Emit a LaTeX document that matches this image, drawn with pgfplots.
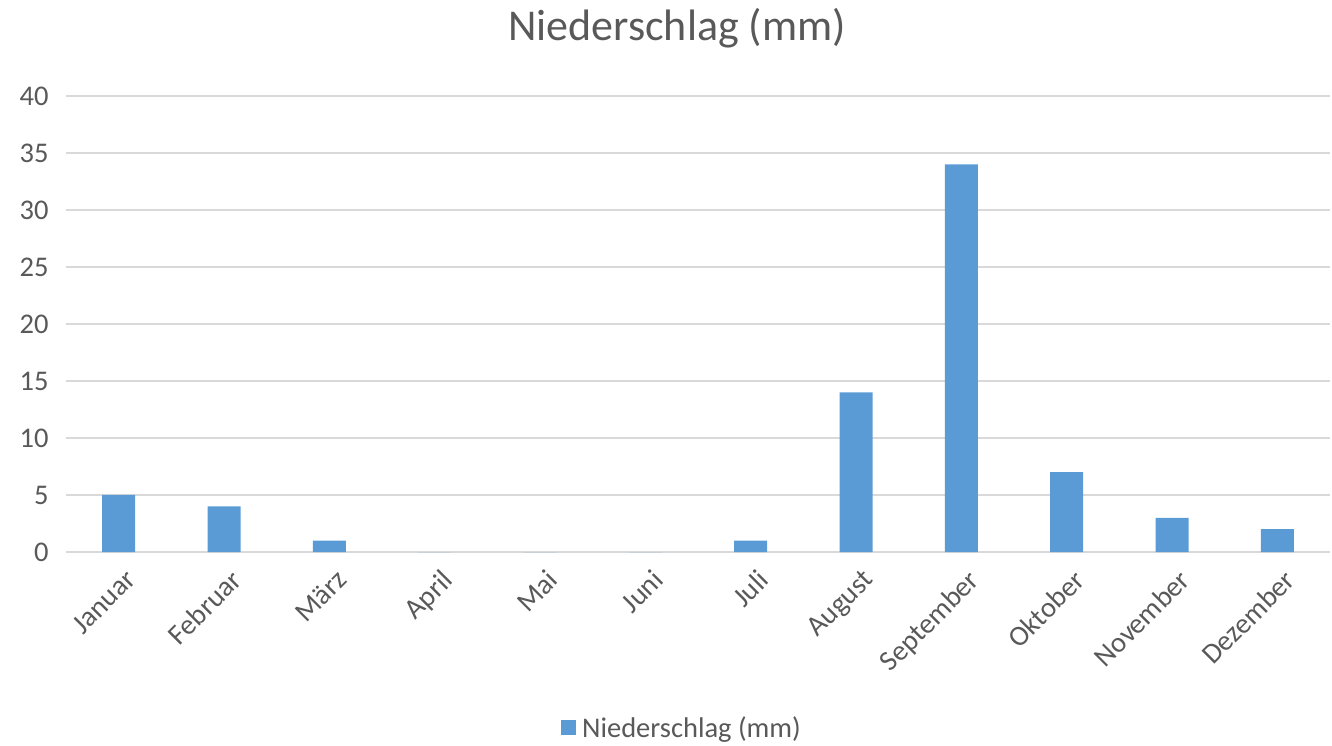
\documentclass[border=0pt]{standalone}
\usepackage{pgfplots}
\pgfplotsset{compat=1.18}
\usepackage{fontspec}
\setmainfont{Carlito}
\definecolor{barblue}{HTML}{5B9BD5}
\definecolor{txtgray}{HTML}{595959}
\definecolor{gridgray}{HTML}{D9D9D9}
\begin{document}
\begin{tikzpicture}
\begin{axis}[
  at={(0,0)}, anchor=south west,
  scale only axis,
  width=1264pt, height=456pt,
  xmin=-0.5, xmax=11.5,
  ymin=0, ymax=40,
  ytick={0,5,...,40},
  xtick={0,...,11},
  xticklabels={Januar,Februar,März,April,Mai,Juni,Juli,August,September,Oktober,November,Dezember},
  x tick label style={rotate=45, anchor=north east, xshift=-4pt, yshift=-12pt},
  axis line style={draw=none},
  tick style={draw=none},
  ymajorgrids,
  major grid style={gridgray, line width=1.2pt},
  ticklabel style={font=\fontsize{28.5}{34}\selectfont, text=txtgray},
  /pgf/number format/assume math mode=true,
  yticklabel style={xshift=-14pt},
  title={Niederschlag (mm)},
  title style={at={(0.5,1)}, anchor=base, yshift=49pt, xshift=-21pt, font=\fontsize{44}{52}\selectfont, text=txtgray},
  legend style={at={(0.5,-0.385)}, anchor=center, draw=none, fill=none, font=\fontsize{28.5}{34}\selectfont, text=txtgray, xshift=-16pt},
  legend image code/.code={\fill[barblue] (0pt,-7.5pt) rectangle (15pt,7.5pt); \path (19pt,0pt);},
  legend cell align=left,
]
\addplot[ybar, bar width=33pt, fill=barblue, draw=none] coordinates {
(0,5) (1,4) (2,1) (3,0) (4,0) (5,0) (6,1) (7,14) (8,34) (9,7) (10,3) (11,2)
};
\addlegendentry{Niederschlag (mm)}
\end{axis}
\pgfresetboundingbox
\path[use as bounding box] (-66pt,-194pt) rectangle (1266pt,552pt);
\end{tikzpicture}
\end{document}
